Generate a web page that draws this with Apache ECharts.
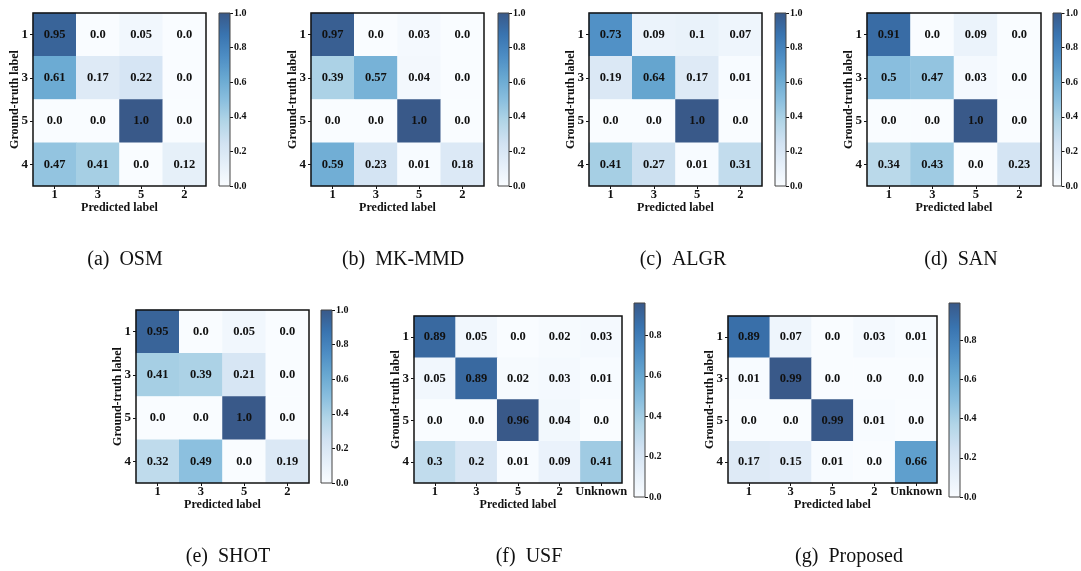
<!DOCTYPE html>
<html><head><meta charset="utf-8">
<script src="https://cdn.jsdelivr.net/npm/echarts@6/dist/echarts.min.js"></script>
<style>html,body{margin:0;padding:0;background:#fff}#c{width:1081px;height:571px}</style>
</head><body><div id="c"></div>
<script>
// ---- data ----
const predLabels4 = ['1', '3', '5', '2'];
const predLabels5 = ['1', '3', '5', '2', 'Unknown'];
const trueLabels = ['1', '3', '5', '4'];
const osm      = [[0.95, 0.0, 0.05, 0.0], [0.61, 0.17, 0.22, 0.0], [0.0, 0.0, 1.0, 0.0], [0.47, 0.41, 0.0, 0.12]];
const mkmmd    = [[0.97, 0.0, 0.03, 0.0], [0.39, 0.57, 0.04, 0.0], [0.0, 0.0, 1.0, 0.0], [0.59, 0.23, 0.01, 0.18]];
const algr     = [[0.73, 0.09, 0.1, 0.07], [0.19, 0.64, 0.17, 0.01], [0.0, 0.0, 1.0, 0.0], [0.41, 0.27, 0.01, 0.31]];
const san      = [[0.91, 0.0, 0.09, 0.0], [0.5, 0.47, 0.03, 0.0], [0.0, 0.0, 1.0, 0.0], [0.34, 0.43, 0.0, 0.23]];
const shot     = [[0.95, 0.0, 0.05, 0.0], [0.41, 0.39, 0.21, 0.0], [0.0, 0.0, 1.0, 0.0], [0.32, 0.49, 0.0, 0.19]];
const usf      = [[0.89, 0.05, 0.0, 0.02, 0.03], [0.05, 0.89, 0.02, 0.03, 0.01], [0.0, 0.0, 0.96, 0.04, 0.0], [0.3, 0.2, 0.01, 0.09, 0.41]];
const proposed = [[0.89, 0.07, 0.0, 0.03, 0.01], [0.01, 0.99, 0.0, 0.0, 0.0], [0.0, 0.0, 0.99, 0.01, 0.0], [0.17, 0.15, 0.01, 0.0, 0.66]];
const captions = ['(a)  OSM', '(b)  MK-MMD', '(c)  ALGR', '(d)  SAN', '(e)  SHOT', '(f)  USF', '(g)  Proposed'];
const colorbarTicks = [0.0, 0.2, 0.4, 0.6, 0.8, 1.0];

// ---- layout / style ----
const FONT = '"Liberation Serif","Times New Roman",Times,serif';
const BLUES = ['#f7fbff', '#deebf7', '#c6dbef', '#9ecae1', '#6baed6', '#4292c6', '#2171b5', '#08519c', '#08306b'];
function blend(hex, a) {
  const n = parseInt(hex.slice(1), 16);
  const c = [(n >> 16) & 255, (n >> 8) & 255, n & 255].map(v => Math.round(v * a + 255 * (1 - a)));
  return 'rgb(' + c.join(',') + ')';
}
const CMAP = BLUES.map(h => blend(h, 0.8));

const panels = [
  { m: osm,      x: predLabels4, hm: [33, 13, 173, 173],  cb: [219, 13, 11, 173],  cap: [125, 260] },
  { m: mkmmd,    x: predLabels4, hm: [311, 13, 173, 173], cb: [498, 13, 11, 173],  cap: [403, 260] },
  { m: algr,     x: predLabels4, hm: [589, 13, 173, 173], cb: [775, 13, 11, 173],  cap: [683, 260] },
  { m: san,      x: predLabels4, hm: [867, 13, 174, 173], cb: [1053, 13, 11, 173], cap: [961, 260] },
  { m: shot,     x: predLabels4, hm: [136, 310, 173, 173], cb: [321, 310, 11, 173], cap: [228, 557] },
  { m: usf,      x: predLabels5, hm: [414, 316, 208, 167], cb: [634, 303, 11, 194], cap: [529, 557] },
  { m: proposed, x: predLabels5, hm: [728, 316, 209, 167], cb: [949, 303, 11, 194], cap: [849, 557] }
];

const grid = [], xAxis = [], yAxis = [], series = [], visualMap = [], graphic = [];
panels.forEach((p, i) => {
  const cmax = Math.max(...p.m.flat());
  const gi = 2 * i, ci = 2 * i + 1;
  grid.push({ left: p.hm[0], top: p.hm[1], width: p.hm[2], height: p.hm[3], show: true, z: 5,
    backgroundColor: 'transparent', borderColor: '#111', borderWidth: 1.5 });
  grid.push({ left: p.cb[0], top: p.cb[1], width: p.cb[2], height: p.cb[3], show: true, z: 5,
    backgroundColor: 'transparent', borderColor: '#444', borderWidth: 1 });
  xAxis.push({ type: 'category', gridIndex: gi, data: p.x, position: 'bottom',
    name: 'Predicted label', nameLocation: 'middle', nameGap: 16, nameMoveOverlap: false,
    nameTextStyle: { fontFamily: FONT, fontWeight: 'bold', fontSize: 12, color: '#111' },
    axisLine: { show: false }, axisTick: { show: true, alignWithLabel: true, length: 3, lineStyle: { color: '#111' } },
    axisLabel: { interval: 0, fontFamily: FONT, fontWeight: 'bold', fontSize: 12.5, color: '#111', margin: 2 },
    splitLine: { show: false } });
  yAxis.push({ type: 'category', gridIndex: gi, data: trueLabels, inverse: true,
    name: 'Ground-truth label', nameLocation: 'middle', nameGap: 12, nameMoveOverlap: false,
    nameTextStyle: { fontFamily: FONT, fontWeight: 'bold', fontSize: 12, color: '#111' },
    axisLine: { show: false }, axisTick: { show: true, alignWithLabel: true, length: 3, lineStyle: { color: '#111' } },
    axisLabel: { interval: 0, fontFamily: FONT, fontWeight: 'bold', fontSize: 13, color: '#111', margin: 5 },
    splitLine: { show: false } });
  xAxis.push({ type: 'category', gridIndex: ci, data: ['cb'], show: false });
  const ticks = colorbarTicks.filter(t => t <= cmax + 1e-9);
  yAxis.push({ type: 'value', gridIndex: ci, min: 0, max: cmax, position: 'right',
    axisLine: { show: false }, splitLine: { show: false },
    axisTick: { show: true, length: 3, customValues: ticks, lineStyle: { color: '#111' } },
    axisLabel: { customValues: ticks, fontFamily: FONT, fontWeight: 'bold', fontSize: 10, color: '#111', margin: 4,
      formatter: v => v.toFixed(1) } });
  const data = [];
  p.m.forEach((row, r) => row.forEach((v, c) => data.push([c, r, v])));
  series.push({ type: 'heatmap', xAxisIndex: gi, yAxisIndex: gi, data: data, silent: true,
    label: { show: true, fontFamily: FONT, fontWeight: 'bold', fontSize: 12.5, color: '#111',
      formatter: d => { const v = d.value[2]; return Number.isInteger(v) ? v.toFixed(1) : String(v); } },
    emphasis: { disabled: true } });
  visualMap.push({ show: false, type: 'continuous', seriesIndex: series.length - 1, dimension: 2,
    min: 0, max: cmax, inRange: { color: CMAP } });
  series.push({ type: 'bar', xAxisIndex: ci, yAxisIndex: ci, data: [cmax], barWidth: '100%', silent: true,
    itemStyle: { color: { type: 'linear', x: 0, y: 1, x2: 0, y2: 0,
      colorStops: CMAP.map((c, k) => ({ offset: k / (CMAP.length - 1), color: c })) } } });
  graphic.push({ type: 'text', x: p.cap[0], y: p.cap[1],
    style: { text: captions[i], fontFamily: FONT, fontSize: 20, fill: '#111', textAlign: 'center', textVerticalAlign: 'middle' } });
});

const chart = echarts.init(document.getElementById('c'), null, { renderer: 'canvas' });
chart.setOption({ animation: false, backgroundColor: '#fff', grid, xAxis, yAxis, visualMap, series, graphic });
</script>
</body></html>
